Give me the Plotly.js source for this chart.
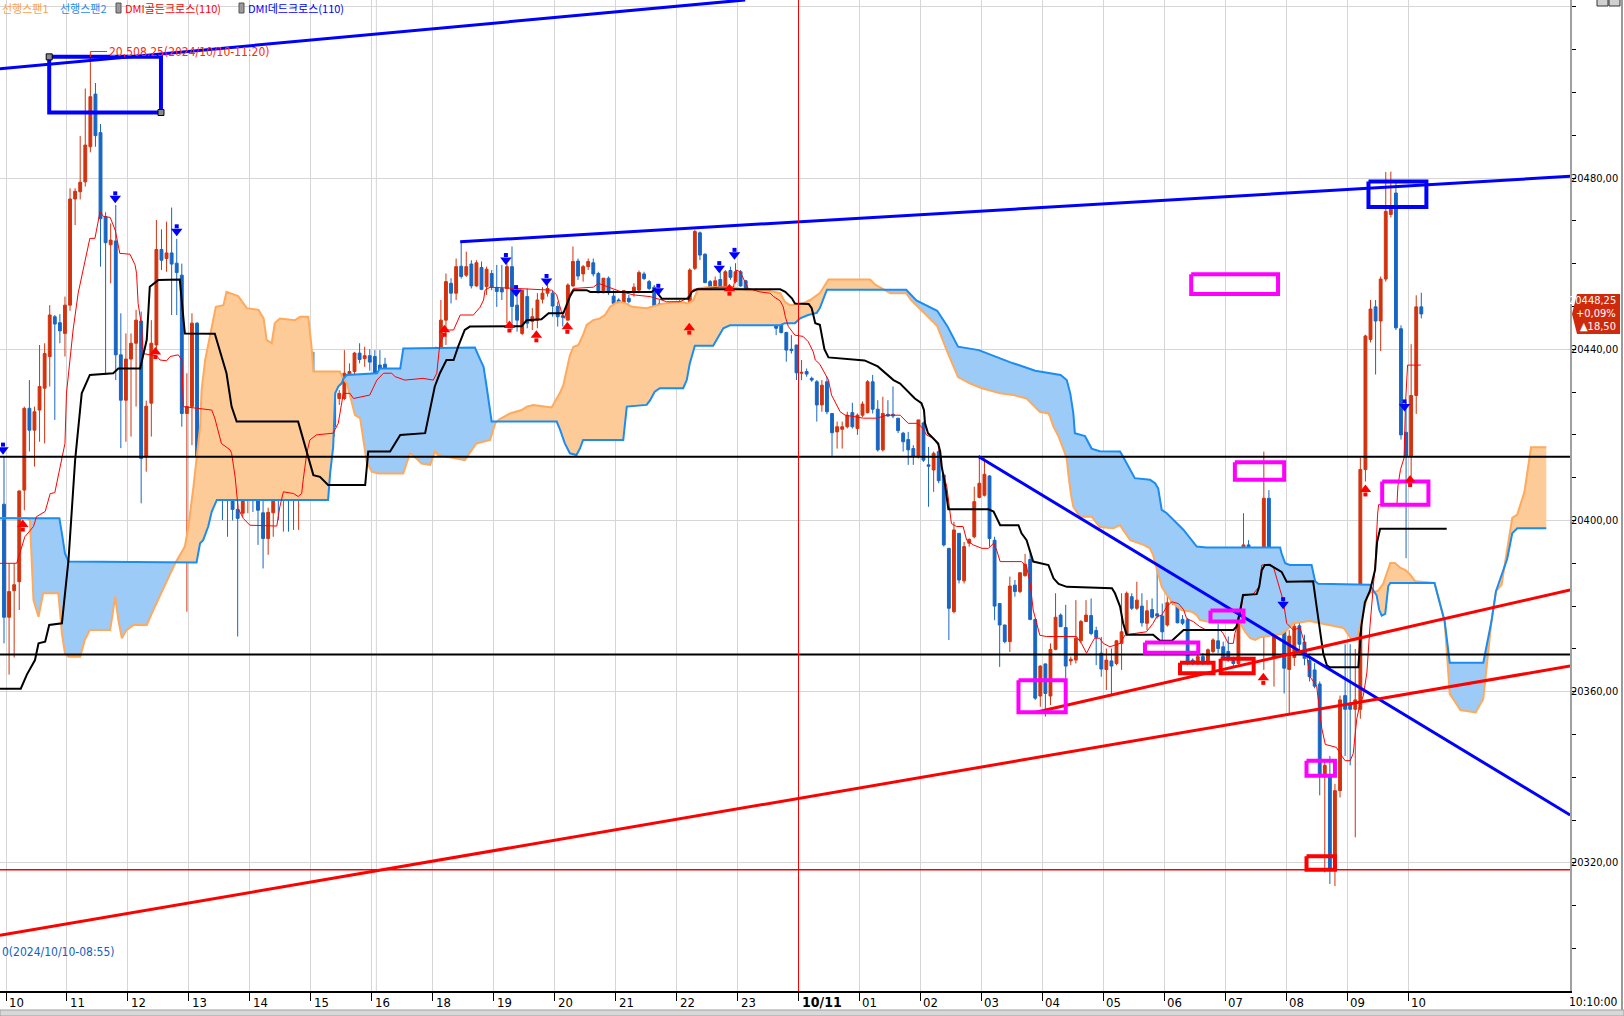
<!DOCTYPE html>
<html><head><meta charset="utf-8">
<script src="https://cdn.plot.ly/plotly-3.0.1.min.js"></script>
<style>html,body{margin:0;padding:0;background:#fff;overflow:hidden}</style>
</head><body><div id="chart" style="width:1624px;height:1016px"></div>
<script>
// ---------------- DATA (5-minute candles, index 0 = 10/10 10:00) ----------------
const openP = [
20403.8,20377.4,20383.6,20385.7,20407.1,20426.2,20421.1,20425.8,20430.9,20438.3,
20447.6,20446.2,20443.7,20450.3,20475.1,20476.8,20479.1,20487.3,20499.6,20490.6,
20471.0,20464.4,20465.3,20438.7,20428.1,20437.7,20441.4,20446.6,20414.9,20427.4,
20441.0,20463.3,20461.2,20462.5,20460.1,20457.3,20425.0,20426.6,20446.1,20414.9,
20420.0,20419.2,20418.6,20412.2,20407.9,20416.1,20402.6,20401.7,20411.0,20416.3,
20416.1,20401.8,20395.8,20401.8,20412.2,20407.9,20414.9,20407.9,20410.6,20410.6,
20418.8,20429.7,20429.3,20428.9,20419.2,20421.9,20428.5,20428.5,20434.2,20434.8,
20439.1,20437.8,20438.5,20438.3,20436.3,20436.5,20428.1,20432.1,20428.9,20430.9,
20432.4,20434.4,20434.4,20435.9,20436.7,20437.9,20434.4,20446.8,20455.4,20453.1,
20459.4,20457.3,20459.9,20454.8,20459.1,20454.6,20457.7,20454.4,20454.2,20454.2,
20459.3,20450.3,20443.7,20452.3,20446.5,20446.8,20451.7,20453.1,20453.1,20450.0,
20447.8,20446.8,20454.8,20460.6,20457.6,20459.3,20460.2,20457.7,20453.2,20456.6,
20452.4,20451.5,20450.9,20451.9,20453.2,20453.8,20457.6,20455.8,20454.5,20450.6,
20449.3,20442.9,20447.2,20446.7,20450.1,20446.7,20458.9,20467.2,20462.2,20455.8,
20453.5,20456.3,20454.5,20458.4,20455.8,20458.1,20456.0,20447.8,20452.7,20452.9,
20451.3,20447.1,20449.3,20446.2,20443.9,20440.0,20441.0,20434.4,20434.8,20433.2,
20432.4,20427.0,20432.4,20425.0,20420.7,20421.3,20421.9,20425.2,20421.5,20424.6,
20425.2,20432.4,20426.0,20416.5,20424.8,20424.8,20423.9,20420.4,20418.9,20416.8,
20414.9,20422.8,20413.0,20411.8,20416.1,20410.6,20393.5,20378.7,20397.0,20385.9,
20394.7,20396.2,20405.4,20405.9,20410.4,20395.4,20380.6,20375.6,20371.7,20384.9,
20383.4,20387.1,20390.9,20376.9,20359.0,20366.5,20359.0,20369.9,20377.9,20375.0,
20367.2,20367.4,20371.9,20376.4,20377.8,20374.3,20369.0,20365.2,20367.2,20366.6,
20371.3,20373.6,20382.2,20379.5,20380.0,20376.0,20379.2,20378.2,20377.7,20375.6,
20380.8,20382.8,20376.9,20376.8,20367.4,20366.6,20368.2,20366.6,20369.4,20371.9,
20370.5,20369.4,20367.6,20366.6,20391.7,20394.3,20390.2,20391.1,20390.0,20405.2,
20368.2,20383.8,20376.8,20365.2,20368.0,20375.4,20371.6,20367.3,20365.1,20361.8,
20340.6,20340.1,20318.4,20336.9,20359.1,20357.0,20355.9,20355.9,20411.9,20442.3,
20449.9,20446.6,20456.4,20471.5,20476.5,20444.8,20420.6,20415.1,20429.2,20449.9];
const highP = [
20414.9,20390.0,20390.0,20407.0,20426.6,20432.8,20426.6,20441.0,20441.4,20450.3,
20448.0,20448.2,20452.3,20477.6,20477.6,20489.8,20500.9,20508.25,20502.2,20492.6,
20472.0,20469.4,20473.7,20448.4,20443.7,20443.7,20449.2,20448.8,20428.0,20446.8,
20470.2,20468.0,20469.8,20473.1,20465.8,20460.0,20434.4,20448.4,20446.3,20430.5,
20428.5,20425.8,20423.5,20421.9,20416.5,20421.9,20426.2,20421.9,20424.6,20417.0,
20420.0,20406.3,20403.0,20415.7,20418.0,20417.2,20416.9,20412.6,20412.6,20420.3,
20443.7,20439.4,20433.2,20429.3,20424.6,20430.5,20430.5,20439.8,20436.7,20439.4,
20441.4,20440.6,20440.0,20439.8,20439.8,20438.0,20432.0,20433.5,20432.8,20434.4,
20437.5,20436.7,20437.5,20436.7,20439.8,20440.6,20451.5,20457.7,20456.6,20461.2,
20465.1,20462.8,20460.8,20460.8,20460.5,20459.3,20458.5,20459.7,20459.7,20460.1,
20464.0,20454.2,20453.8,20454.2,20449.6,20453.1,20454.5,20456.2,20453.8,20451.1,
20448.8,20455.4,20464.0,20461.2,20459.7,20461.2,20461.2,20458.1,20456.6,20457.0,
20453.8,20451.9,20453.8,20452.7,20455.4,20458.4,20458.1,20456.2,20455.0,20451.5,
20449.9,20448.4,20449.9,20451.5,20451.1,20458.9,20467.9,20467.5,20462.4,20456.2,
20457.0,20458.5,20458.5,20459.3,20460.1,20458.5,20456.2,20453.8,20454.2,20453.5,
20451.5,20449.2,20449.6,20448.4,20444.1,20443.3,20441.0,20437.5,20435.5,20433.6,
20432.8,20432.8,20433.5,20425.0,20423.1,20423.1,20425.4,20427.5,20425.0,20427.8,
20432.8,20434.0,20428.1,20428.9,20428.1,20431.3,20423.9,20420.7,20420.7,20417.6,
20423.5,20423.1,20417.2,20416.1,20416.5,20411.0,20393.5,20399.7,20397.0,20395.0,
20395.8,20407.9,20415.3,20414.5,20410.6,20396.2,20380.6,20375.6,20386.9,20386.1,
20387.8,20392.2,20392.3,20376.9,20366.2,20366.6,20371.3,20383.0,20378.3,20380.3,
20368.2,20381.4,20376.8,20381.4,20381.8,20375.2,20372.8,20370.1,20370.1,20372.1,
20383.0,20383.4,20383.0,20385.7,20383.0,20381.4,20381.8,20389.6,20380.6,20383.8,
20384.5,20386.5,20377.9,20377.2,20367.8,20368.6,20369.0,20370.1,20372.5,20376.0,
20371.7,20372.9,20368.2,20393.1,20401.7,20395.4,20391.5,20391.5,20416.1,20407.1,
20389.2,20388.8,20377.9,20374.4,20379.8,20377.1,20373.3,20368.9,20366.7,20362.4,
20343.9,20345.0,20338.5,20359.1,20371.1,20371.1,20370.0,20414.6,20443.4,20451.5,
20451.5,20457.0,20481.4,20481.5,20479.0,20445.6,20427.6,20441.2,20452.6,20453.2];
const lowP = [
20371.3,20364.0,20368.0,20379.1,20402.4,20416.1,20412.6,20418.4,20418.0,20431.3,
20423.5,20441.4,20438.3,20449.0,20469.0,20475.0,20478.0,20486.0,20487.3,20459.3,
20434.0,20455.4,20432.8,20416.9,20418.4,20419.6,20426.6,20404.0,20411.4,20419.6,
20440.0,20458.5,20458.1,20448.0,20448.0,20421.9,20378.7,20417.6,20406.0,20409.5,
20411.8,20405.6,20406.3,20400.1,20396.2,20400.0,20372.9,20400.9,20401.7,20402.0,
20394.3,20388.8,20392.0,20396.2,20400.1,20397.4,20397.4,20397.8,20397.8,20404.8,
20418.4,20423.9,20418.0,20418.0,20417.6,20419.6,20427.0,20428.1,20432.0,20432.8,
20436.7,20435.9,20435.0,20434.2,20428.1,20427.0,20428.1,20430.0,20426.2,20430.5,
20429.7,20432.8,20429.3,20434.4,20435.5,20432.8,20433.0,20441.0,20450.7,20451.5,
20456.5,20456.9,20454.2,20454.6,20453.8,20452.7,20453.8,20449.9,20451.5,20446.1,
20444.5,20444.1,20443.3,20444.9,20444.5,20444.9,20450.7,20452.3,20447.6,20445.3,
20445.3,20446.8,20454.6,20456.2,20455.8,20458.5,20457.0,20453.1,20453.1,20452.7,
20446.8,20450.0,20450.0,20450.7,20452.3,20453.1,20456.2,20453.8,20449.6,20448.4,
20439.8,20442.6,20443.7,20446.1,20443.7,20446.1,20458.5,20460.8,20455.4,20451.5,
20453.1,20450.0,20454.2,20456.2,20455.4,20454.6,20447.6,20447.6,20451.5,20451.5,
20446.8,20446.8,20443.3,20443.7,20437.1,20439.0,20432.8,20432.8,20433.6,20432.4,
20423.1,20425.4,20424.8,20415.1,20416.8,20416.8,20421.5,20421.5,20420.0,20424.2,
20425.0,20425.0,20416.1,20416.1,20424.2,20423.9,20420.4,20416.1,20413.0,20413.0,
20414.5,20413.7,20403.2,20406.7,20408.7,20393.9,20372.1,20378.3,20385.3,20385.3,
20393.9,20395.8,20405.2,20405.6,20393.9,20376.7,20365.8,20371.3,20369.3,20382.2,
20383.0,20386.9,20376.7,20358.1,20356.5,20354.2,20356.9,20369.7,20375.2,20363.1,
20366.2,20366.6,20371.3,20376.4,20373.2,20366.2,20363.5,20360.4,20359.2,20366.2,
20365.1,20373.2,20379.1,20379.1,20375.2,20374.4,20377.1,20377.1,20371.9,20375.2,
20380.3,20376.0,20375.6,20366.2,20366.2,20366.2,20366.2,20366.2,20369.0,20369.0,
20367.8,20367.0,20365.9,20366.2,20388.4,20389.6,20386.9,20389.2,20365.1,20379.9,
20361.2,20376.8,20359.6,20354.9,20366.0,20368.9,20366.2,20362.4,20360.8,20335.8,
20317.8,20315.1,20314.6,20335.3,20345.0,20342.8,20326.0,20353.7,20409.1,20441.6,
20434.1,20439.6,20455.8,20470.8,20444.5,20418.9,20391.2,20410.2,20424.9,20447.2];
const closeP = [
20377.4,20383.4,20385.0,20406.9,20426.2,20421.1,20425.4,20431.3,20439.0,20448.0,
20445.9,20444.3,20450.3,20475.1,20476.9,20479.0,20487.7,20499.0,20489.9,20470.5,
20464.9,20465.5,20438.7,20428.1,20437.7,20441.4,20446.8,20414.5,20426.7,20441.4,
20463.3,20460.8,20462.5,20459.9,20457.9,20425.0,20426.6,20446.1,20414.9,20419.6,
20418.8,20419.0,20411.8,20407.5,20415.7,20402.6,20400.5,20411.0,20415.7,20415.9,
20402.4,20395.8,20401.9,20412.2,20407.5,20415.3,20407.9,20405.6,20412.2,20418.8,
20430.9,20429.3,20428.9,20419.2,20421.9,20428.5,20429.7,20434.4,20434.8,20439.1,
20437.6,20438.5,20437.0,20434.4,20429.7,20429.3,20430.1,20431.7,20430.9,20432.4,
20435.2,20434.0,20435.9,20436.7,20438.3,20434.0,20446.8,20455.8,20453.1,20459.3,
20457.0,20459.3,20454.8,20460.2,20454.0,20458.7,20454.5,20453.5,20453.4,20459.3,
20450.0,20446.8,20453.8,20446.1,20447.6,20451.5,20453.1,20454.2,20450.1,20447.6,
20447.5,20455.0,20460.5,20457.1,20459.3,20460.5,20457.6,20453.2,20456.6,20453.2,
20450.7,20450.7,20453.7,20451.1,20454.5,20457.9,20456.5,20454.2,20450.0,20449.2,
20442.6,20447.2,20446.4,20449.2,20446.2,20458.5,20467.5,20462.0,20455.6,20453.1,
20456.0,20453.8,20458.1,20456.8,20458.1,20454.8,20447.8,20453.5,20453.5,20452.1,
20447.0,20448.4,20444.9,20443.9,20439.8,20439.7,20434.5,20434.6,20434.2,20432.8,
20427.0,20431.6,20425.4,20420.5,20421.9,20421.9,20424.6,20421.9,20424.6,20427.2,
20432.4,20426.0,20416.5,20425.0,20424.4,20424.4,20421.0,20418.4,20416.5,20415.0,
20423.5,20414.1,20412.7,20415.7,20409.3,20394.3,20379.5,20397.8,20386.1,20393.9,
20395.6,20404.4,20408.7,20410.8,20395.8,20380.0,20375.6,20371.7,20384.7,20383.4,
20387.8,20389.8,20376.9,20358.5,20366.0,20359.6,20369.9,20377.4,20375.2,20366.0,
20367.6,20372.5,20376.4,20377.9,20373.6,20372.7,20365.3,20367.4,20366.0,20371.9,
20374.0,20383.0,20379.5,20381.4,20376.1,20378.9,20377.4,20377.7,20374.0,20380.8,
20382.6,20376.1,20376.0,20366.6,20366.6,20368.2,20366.6,20369.8,20372.1,20370.1,
20368.2,20367.4,20366.6,20391.9,20394.3,20390.0,20391.1,20389.6,20405.2,20380.3,
20383.8,20377.1,20365.5,20373.0,20375.3,20371.1,20367.8,20363.5,20361.3,20340.6,
20342.8,20318.4,20336.9,20358.1,20355.9,20355.9,20358.1,20411.9,20443.1,20449.4,
20446.6,20456.4,20472.2,20472.7,20445.0,20420.0,20415.1,20429.2,20449.9,20448.25];

// Ichimoku lines (candle index, price)
const tenkanK = [-1,2.5,3.1,4.1,5.8,6.4,8.1,9.1,10,11,12,12.3,13,13.6,14.6,15.3,15.9,16.9,17.9,18.6,18.9,19.6,20.9,21.9,22.8,24.8,25.8,26.1,26.4,27.1,27.4,30.1,30.7,32,32.7,34.3,35,35.3,40.9,41.5,42.2,42.8,44.5,44.8,45.5,46.1,47.1,48.4,53.7,54.3,55,57,57.9,58.6,58.9,59.6,60.2,61.5,64.8,65.8,66.8,68.1,68.8,72,73.4,74.7,76.3,77,78.9,82.5,84.5,85.2,85.8,87.1,88.5,89.8,92.4,93.7,94.4,94.7,95.7,107.8,108.8,109.8,110.4,111.1,112.1,116,117,118.3,121.3,123.9,127.2,129.5,130.4,133.1,134.4,135.7,140.9,143.6,144.2,144.9,145.9,146.5,148.8,150.8,151.5,152.8,153.4,153.8,154.4,155.7,157.3,158.3,159.3,159.7,160.6,162.3,162.9,164.6,165.6,169.2,171.8,173.8,176.4,177.4,178,179.7,180.6,181.6,182.9,183.9,184.6,185.6,186.5,187.5,188.8,189.5,190.8,192.5,193.8,194.8,195.4,196.1,200.3,201.3,202,202.6,203.3,203.9,205.2,211.1,212.1,213.1,214.1,214.7,215.7,216.4,217.7,219.7,220.7,221.7,224.9,226.2,226.9,227.9,228.9,229.9,231.2,232.2,232.8,234.1,235.4,236.7,239.4,240,241,242,242.3,243.3,243.9,245.9,247.1,247.6,249.2,249.9,250.5,251.2,251.8,252.5,253.8,255.1,256.1,257.1,258.4,259.4,260.1,262.3,263,264,265,265.6,266.3,266.9,267.6,268.3,268.9,269.9,270.4,270.6,274.2,274.4,274.9,275.6,275.9,276.3,278.9];
const tenkanV = [20390,20390,20392.3,20396.2,20398.6,20400.9,20402.1,20406.3,20406.5,20412.6,20418,20429.7,20437.5,20444.5,20453.1,20457,20460.8,20465.9,20465.9,20470.6,20472.1,20471,20470.8,20467.8,20462.4,20462.2,20459.7,20457.7,20450.7,20445.3,20439,20438.4,20437.5,20437.3,20438.3,20438.7,20437.5,20426.6,20425.8,20423.9,20420.4,20418,20416.5,20415.7,20410.2,20402.8,20400.5,20398.9,20398.7,20403.2,20406.7,20406.3,20405.6,20406.3,20409.5,20415.7,20418.8,20420,20420.4,20422.7,20429.7,20429.7,20428.5,20429.3,20432.8,20434.4,20434.4,20433.6,20432.8,20433.2,20432.8,20434.4,20441.4,20444.5,20444.5,20448,20448,20449.8,20451.5,20453.8,20454.5,20453.8,20452.7,20448.4,20447.2,20452.3,20454.2,20454.5,20455.4,20454.8,20453.5,20452.7,20452.3,20451.5,20451.1,20451.1,20451.9,20454,20454.5,20454.5,20458.5,20458.1,20455.8,20454.2,20453.4,20453.1,20452.3,20451.3,20449.9,20447.6,20445.3,20443.3,20443,20441.8,20439.4,20437.5,20436.5,20432.8,20429.3,20425.4,20424.6,20423.9,20423.9,20424.6,20424.6,20423.5,20422.7,20422.7,20421.9,20420,20419.2,20417.6,20412.2,20407.9,20399.3,20398.6,20398.6,20395.4,20394.3,20393.5,20393.5,20394.7,20393.1,20390.4,20390.4,20389.2,20385.3,20379.1,20376,20373.2,20372.9,20372.9,20371.3,20369,20371.3,20372.5,20372.5,20371.3,20370.5,20371.3,20373.3,20373.5,20374,20376,20377.5,20377.9,20379.9,20381,20380.6,20379.2,20377.1,20376.4,20375.2,20374.4,20374.4,20373.6,20371.3,20371.3,20373.6,20377.5,20382.4,20382.8,20384.6,20389.6,20389.8,20389.1,20386.9,20383.8,20381.4,20376,20374.4,20375,20371.1,20363.5,20361.3,20351.5,20347.7,20347,20345.6,20343.9,20343.9,20345.6,20353.7,20357,20359.1,20364.6,20375.4,20389.6,20401.5,20403.7,20403.7,20408.1,20411.9,20414.6,20427.6,20436.3,20436.3];
const kijunK = [-1,3.3,4.5,6.1,6.8,8.1,8.9,11.4,12.7,14,15.3,16.9,21.5,22.5,26.8,28.1,28.7,30.4,34.6,35.6,41.5,43.8,44.8,45.8,57.9,59.6,60.9,62.2,63.8,71.1,71.7,76,78,82.9,83.9,84.8,85.8,87.1,88.5,89.4,90.7,91.7,101.9,102.9,105.8,107.2,110.1,111.4,112.1,114.7,115.4,127.5,128.1,129.1,129.5,134.7,135.4,136.4,152.8,153.8,155.1,155.7,158.4,159,159.7,160.6,161.5,162.3,169.4,172,175.1,176.4,178.3,179.3,180.6,181.1,181.3,181.9,182.9,183.9,184.3,184.6,185.3,185.9,193.8,194.8,196.1,199.7,200.3,201.3,202.6,203.9,205.6,206.6,207.6,209.2,218.1,218.7,219.7,220.3,221,226.2,227.6,229.9,231.5,232.2,242,242.6,243.3,243.9,246.6,247.1,247.6,248.2,249.2,250.5,251.5,252.5,257.7,258.4,259,259.7,260.4,261,266.6,267.2,267.9,268.9,269.9,270.3,270.9,284];
const kijunV = [20360.7,20360.7,20364,20367.4,20371.3,20371.7,20375.6,20376,20390.8,20414.1,20429.7,20434,20434.4,20435.5,20435.5,20442.2,20454.6,20456.2,20456.3,20443.7,20443.6,20434.4,20426.6,20423.1,20423.1,20415.7,20410.6,20410.2,20408.3,20408.3,20416.1,20416.1,20420,20420.4,20425.8,20431.3,20434.4,20437.5,20437.5,20440.6,20444.5,20445.3,20445.4,20446.8,20447,20448.4,20448.4,20452.3,20453.8,20453.8,20453.4,20453.4,20454,20452.3,20451.8,20451.8,20453.4,20454,20454,20453.4,20451.9,20450.7,20450.6,20449.6,20446.1,20445.7,20440,20438.1,20437.4,20436,20432.8,20432,20429.7,20428.5,20427.4,20425.8,20422.7,20420.4,20419.2,20418,20416.1,20412.6,20407.9,20402.6,20402.6,20402.1,20398.9,20398.9,20397,20395.4,20390.4,20390,20389.6,20386.5,20385.2,20384.5,20384.2,20383,20379.9,20376,20373.3,20373.3,20371.9,20371.9,20373.5,20374.4,20374.4,20375.2,20378.7,20382.6,20382.8,20384.6,20388.4,20389.6,20389.6,20388.8,20388,20385.7,20385.8,20379.8,20374.3,20368.9,20366.2,20365.7,20365.7,20375.4,20380.9,20383.6,20388.5,20395,20398.1,20398.1];
const spanAK = [-1,4.5,5.1,5.8,6.8,7.7,10.7,11.4,12,12.7,15,15.9,16.9,20.9,21.9,22.5,23.2,24.1,25.5,28.1,29.1,30.7,32.3,33.7,35.6,36.3,37.3,38.6,38.9,39.6,40.6,41.7,43.2,43.8,44.5,46.1,47.8,50.1,51.1,51.7,52.7,53.3,54.3,57.3,58.3,59.9,60.6,60.9,66.1,66.8,67.5,68.4,69.1,70.1,70.7,71.4,72.4,73.7,78.6,79.9,81.2,82.2,83.9,84.8,85.5,87.1,90.7,92.1,93,95.7,96.7,97,97.6,99.6,101.9,102.9,104.2,107.8,108.5,109.4,110.1,110.8,111.4,112.1,113.1,114.1,114.7,116,117.3,118.3,119.3,120.3,121.3,122.6,123.6,126.5,127.8,129.5,132.7,134.7,135.7,136.7,138.3,143.6,146.2,150.1,152.8,153.7,154.7,157.3,158.7,160.6,162.3,170.5,171.5,173.3,174.5,177.6,178.6,181.7,183.7,185.7,187.8,190.2,192.5,196.1,198.7,201.3,202.6,203.9,205.6,205.9,206.6,207.6,208.5,209.2,209.5,210,210.5,211.8,214.1,215.7,218.4,219.7,220.3,221.7,224.3,225.6,226.2,227.2,227.9,228.9,230.2,231.8,233.8,234.8,235.4,236.7,243.3,244.3,245.3,246.3,247.2,251.5,252.5,253.8,257.1,259.1,261.7,263.7,265.3,266.3,268.3,268.9,269.8,270.5,271.5,272.2,272.9,273.8,274.8,275.8,276.8,277.8,281.6,283.6,284.6,286.7,289.7,291.2,292.8,293.7,294.8,296.9,297.9,299.3,300.6,303.6];
const spanAV = [20400.5,20400.5,20400.1,20381.4,20377.5,20383,20383,20373.6,20369,20368.2,20368.2,20372.1,20374.4,20374.4,20382.2,20376.8,20372.5,20374.4,20375.6,20375.6,20378.3,20382.2,20386.5,20390,20393.9,20398.6,20407.9,20421.9,20430.5,20437.5,20443.7,20449.9,20450.3,20453.4,20453.1,20452.4,20449.6,20449.2,20447.2,20442.2,20441.4,20446.1,20447.2,20446.8,20447.6,20447.6,20439.8,20434.8,20434.8,20433.1,20432,20427.4,20424.6,20423.9,20419.2,20413.7,20411.4,20411,20411,20415.7,20414.5,20413.3,20413,20416.1,20415.3,20414.9,20414.1,20416.5,20418,20418.8,20422.7,20423.1,20423.7,20425,20425.8,20426.6,20427,20426.4,20427.8,20429.7,20431.6,20435.1,20438.6,20440.6,20441,20443.7,20445.7,20446.8,20447.2,20448,20449.9,20450.7,20451.1,20450.6,20449.9,20449.6,20450.1,20450.6,20451.1,20450.7,20451.5,20454.2,20454.5,20454.5,20453.8,20453.8,20453.1,20451.1,20450.3,20450.7,20451.5,20453.1,20456.3,20456.3,20455.1,20453.9,20453.1,20453.1,20451.4,20447.8,20445.4,20439.4,20433.5,20432,20430.9,20429.7,20429.3,20428.5,20427,20425.4,20425,20424.3,20421.9,20419.6,20416.8,20414.5,20411,20406.3,20403.2,20400.9,20400.9,20398.5,20398.2,20398.9,20397.8,20395.4,20394.3,20393.5,20391.9,20387.7,20384.5,20382.6,20380.6,20379.1,20378.7,20377.9,20376.8,20376.4,20376.1,20374,20372.5,20372.1,20372.7,20373.5,20374.4,20376,20376.5,20376,20375.4,20374.9,20372.2,20372.2,20382,20383.1,20383.3,20383.6,20385.2,20387.9,20390.1,20390.1,20389,20388.5,20387.4,20385.8,20385.4,20376.4,20359.5,20355.7,20355.2,20358.3,20376.4,20383.5,20385,20400.6,20401.4,20406.7,20417.1,20417.1];
const spanBK = [-1,5.1,10.9,11.4,12,12.7,33.7,37.9,38.6,39.2,40.2,40.9,41.9,63.8,64.2,64.8,65.2,65.8,66.5,66.8,67.5,73.4,74,78,78.6,92.7,93.7,94.4,95,95.7,96,97,108.8,109.5,110.4,111.4,112.7,113.4,114,121.9,122.6,126.5,127.2,128.1,129.1,133.7,134.4,135,135.7,136,139.6,140.3,141.6,142.9,152.8,153.7,155.7,156.7,158.3,160,160.6,162,173.3,177.6,179.6,183.7,185.7,187.8,191.9,198,203,208,209.2,209.9,210.5,210.8,212.8,214.1,215.7,219.7,220.3,221.7,222.6,225.6,226.6,227.2,227.9,228.9,229.9,231.5,232.2,234.8,236.7,251.2,251.5,252.2,253.1,257.4,258.1,258.7,268.9,269.6,269.8,270.2,270.7,271.2,271.9,272.2,272.5,272.9,281.6,283.6,284.6,291.2,292.8,293.7,295.9,296.9,297.9,303.6];
const spanBV = [20400.5,20400.5,20400.5,20397,20392.3,20390.4,20390.2,20390.2,20394.7,20395.4,20398.6,20402.1,20404.8,20404.8,20411,20417.2,20429.7,20431.3,20432.1,20433.1,20434,20434.4,20435.5,20435.5,20440.2,20440.4,20437.7,20435.9,20431.3,20425,20423.1,20423.1,20423.1,20421.1,20418,20415.7,20415.3,20416.9,20418.8,20418.8,20426.6,20427,20428.1,20430.1,20430.9,20430.9,20432.8,20436.7,20439.8,20440.8,20440.8,20442.2,20444.9,20445.6,20445.6,20446.1,20446.1,20447.2,20448,20448.5,20449.6,20453.9,20453.9,20453.9,20451.4,20449,20445.4,20440.6,20439.8,20437,20435,20434,20432.8,20429.7,20425,20420.4,20419.7,20416.8,20416.2,20416.1,20414.9,20411.8,20409.9,20409.5,20408.7,20407.5,20402.5,20401.7,20400.5,20398.6,20397.8,20393.9,20393.7,20393.7,20392.3,20390,20389.6,20389.6,20385.8,20385.2,20385,20383.6,20383.3,20382.5,20379.2,20377.8,20378.2,20380.9,20384.7,20385.4,20385.4,20376.4,20366.8,20366.8,20376.4,20383.5,20391,20397,20398.2,20398.2];
// cloud sections: [from, to, span on top]
const cloudSegs = [[5.1,33.7,'B'],[33.7,66.8,'A'],[66.8,97,'B'],[97,173.3,'A'],[173.3,269.8,'B'],[269.8,281.6,'A'],[281.6,293.7,'B'],[293.7,303.6,'A']];

// Signals (candle index, price)
const deadK = [-0.2,21.9,34,98.8,100.8,106.8,128.8,140.8,143.8,251.8,275.7];
const deadP = [20416.9,20475.6,20467.9,20461.2,20453.7,20456.3,20454,20459.3,20462.4,20380.8,20427];
const goldK = [3.7,29.8,86.7,99.5,104.8,110.9,134.9,142.8,247.9,268,276.8];
const goldP = [20398.7,20439,20444.2,20445.2,20442.9,20444.9,20444.7,20453.8,20362.9,20406.9,20409.1];

// Horizontal levels and trend lines
const blackLevels = [20414.9, 20368.7];
const redLevel = 20318.4;
const blueTrends = [[[-0.8,145.9],[20505.5,20521.6]], [[89.8,308.3],[20465.1,20480.4]], [[191.9,308.3],[20414.9,20331.2]]];
const redTrends = [[[-0.8,308.3],[20303.1,20366.0]], [[203.1,308.3],[20355.2,20383.8]]];
// Boxes [k0,k1,p0,p1]
const blueBoxes = [[8.9,30.9,20495.3,20508.3],[268.6,280.0,20473.2,20479.2]];
const magentaBoxes = [[233.7,250.8,20452.9,20457.5],[242.3,252.0,20409.5,20413.6],[271.3,280.4,20403.7,20409.1],[199.7,209.0,20355.2,20362.7],[224.6,235.1,20369.1,20371.5],[237.5,244.0,20376.4,20379.0],[256.4,262.0,20340.4,20343.9]];
const redBoxes = [[231.5,238.1,20364.3,20366.8],[239.5,246.0,20364.3,20367.7],[256.4,262.0,20318.4,20321.6]];

// Axis labels
const hourIdx = [0,12,24,36,48,60,72,84,96,108,120,132,144,156,168,180,192,204,216,228,240,252,264,276];
const hourLabels = ['10','11','12','13','14','15','16','18','19','20','21','22','23','10/11','01','02','03','04','05','06','07','08','09','10'];
const priceTicks = [20320,20360,20400,20440,20480,20520];
const dateBreakIdx = 156;
const sessionGridIdx = 73.3;

// ---------------- DRAWING ----------------
const PW = 1570, PH = 991;
const X0 = -0.787, X1 = 308.27, Y0 = 20290.1, Y1 = 20521.58;
const ppu = PH / (Y1 - Y0);
const RED = '#d2330f', BLUE = '#1766c4';
const FONT = 'Liberation Sans Narrow, DejaVu Sans Condensed, Liberation Sans, Arial, sans-serif';
const KFONT = 'Noto Sans CJK KR, sans-serif';
const idx = closeP.map((_, i) => i);
const traces = [];

// cloud fills
const span = {A: [spanAK, spanAV], B: [spanBK, spanBV]};
cloudSegs.forEach(([s, e, top]) => {
  const bot = top === 'A' ? 'B' : 'A';
  const xs = [], ys = [];
  span[top][0].forEach((k, i) => { if (k >= s && k <= e) { xs.push(k); ys.push(span[top][1][i]); } });
  for (let i = span[bot][0].length - 1; i >= 0; i--) {
    const k = span[bot][0][i];
    if (k >= s && k <= e) { xs.push(k); ys.push(span[bot][1][i]); }
  }
  traces.push({type:'scatter', mode:'lines', x:xs, y:ys, fill:'toself',
    fillcolor: top === 'A' ? '#fdcb98' : '#9dcbf8', line:{width:0}, hoverinfo:'skip', showlegend:false});
});
traces.push({type:'scatter', mode:'lines', x:spanAK, y:spanAV, line:{color:'#ffa95c', width:2}, hoverinfo:'skip'});
traces.push({type:'scatter', mode:'lines', x:spanBK, y:spanBV, line:{color:'#1a8cf2', width:2}, hoverinfo:'skip'});

// candles
traces.push({type:'candlestick', x:idx, open:openP, high:highP, low:lowP, close:closeP,
  increasing:{line:{color:RED, width:1}, fillcolor:RED},
  decreasing:{line:{color:BLUE, width:1}, fillcolor:BLUE},
  whiskerwidth:0, hoverinfo:'skip', showlegend:false});

// tenkan / kijun
traces.push({type:'scatter', mode:'lines', x:tenkanK, y:tenkanV, line:{color:'#ff0000', width:1}, hoverinfo:'skip'});
traces.push({type:'scatter', mode:'lines', x:kijunK, y:kijunV, line:{color:'#000000', width:2}, hoverinfo:'skip'});

// horizontal levels
blackLevels.forEach(v => traces.push({type:'scatter', mode:'lines', x:[X0, X1], y:[v, v], line:{color:'#000', width:2}, hoverinfo:'skip'}));
traces.push({type:'scatter', mode:'lines', x:[X0, X1], y:[redLevel, redLevel], line:{color:'#ff0000', width:1.5}, hoverinfo:'skip'});
// trend lines
blueTrends.forEach(t => traces.push({type:'scatter', mode:'lines', x:t[0], y:t[1], line:{color:'#0000ff', width:3}, hoverinfo:'skip'}));
redTrends.forEach(t => traces.push({type:'scatter', mode:'lines', x:t[0], y:t[1], line:{color:'#ff0000', width:3}, hoverinfo:'skip'}));

// boxes
function boxTrace(b, color) {
  return {type:'scatter', mode:'lines', x:[b[0], b[1], b[1], b[0], b[0]], y:[b[3], b[3], b[2], b[2], b[3]],
    line:{color:color, width:4}, hoverinfo:'skip'};
}
blueBoxes.forEach(b => traces.push(boxTrace(b, '#0000ff')));
magentaBoxes.forEach(b => traces.push(boxTrace(b, '#ff00ff')));
redBoxes.forEach(b => traces.push(boxTrace(b, '#ff0000')));
// grips on the first blue box
traces.push({type:'scatter', mode:'markers', x:[blueBoxes[0][0], blueBoxes[0][1]], y:[blueBoxes[0][3], blueBoxes[0][2]],
  marker:{symbol:'square', size:6, color:'#8a8a8a', line:{color:'#000', width:1}}, hoverinfo:'skip'});

// signal arrows
traces.push({type:'scatter', mode:'markers', x:deadK, y:deadP.map(p => p + 3.5 / ppu), marker:{symbol:'square', size:4, color:'#0000ff'}, hoverinfo:'skip'});
traces.push({type:'scatter', mode:'markers', x:deadK, y:deadP.map(p => p - 1.5 / ppu), marker:{symbol:'triangle-down', size:10, color:'#0000ff'}, hoverinfo:'skip'});
traces.push({type:'scatter', mode:'markers', x:goldK, y:goldP.map(p => p - 3.5 / ppu), marker:{symbol:'square', size:4, color:'#ff0000'}, hoverinfo:'skip'});
traces.push({type:'scatter', mode:'markers', x:goldK, y:goldP.map(p => p + 1.5 / ppu), marker:{symbol:'triangle-up', size:10, color:'#ff0000'}, hoverinfo:'skip'});

// high marker leader
const hiIdx = highP.indexOf(Math.max(...highP));
traces.push({type:'scatter', mode:'lines', x:[hiIdx, hiIdx, hiIdx + 3.3], y:[highP[hiIdx], highP[hiIdx] + 1.3, highP[hiIdx] + 1.3],
  line:{color:'#ff2a00', width:1}, hoverinfo:'skip'});

// ---- annotations ----
const px2x = px => px / PW;
const py2y = py => 1 - py / PH;
const ann = [];
hourIdx.forEach((k, i) => {
  const bold = hourLabels[i].indexOf('/') >= 0;
  ann.push({x:k + 0.4, xref:'x', y:py2y(1002), yref:'paper', text: bold ? '<b>' + hourLabels[i] + '</b>' : hourLabels[i],
    showarrow:false, xanchor:'left', yanchor:'middle', xshift:1,
    font:{family:FONT, size: bold ? 14 : 13, color:'#000'}});
});
ann.push({x:px2x(1620), xref:'paper', y:py2y(1002), yref:'paper', text:'10:10:00', showarrow:false,
  xanchor:'right', yanchor:'middle', font:{family:FONT, size:12, color:'#000'}});
// price axis labels (drawn as text so they fit the narrow right margin)
priceTicks.filter(v => v < Y1 - 3).forEach(v => ann.push({x:1, xref:'paper', xshift:50, y:v, yref:'y',
  text:v.toFixed(2).replace('.', ','), showarrow:false, xanchor:'right', yanchor:'middle',
  font:{family:FONT, size:11, color:'#000'}}));
// high label
const fmt = v => v.toLocaleString('en-US', {minimumFractionDigits:2, maximumFractionDigits:2});
ann.push({x:hiIdx + 3.3, xref:'x', y:highP[hiIdx] + 1.3, yref:'y', text: fmt(highP[hiIdx]) + '(2024/10/10-11:20)',
  showarrow:false, xanchor:'left', yanchor:'middle', font:{family:FONT, size:12, color:'#ff2a00'}});
ann.push({x:px2x(0), xref:'paper', y:py2y(952), yref:'paper', text:'0(2024/10/10-08:55)', showarrow:false,
  xanchor:'left', yanchor:'middle', font:{family:FONT, size:12, color:'#1060c8'}});
// legend line at top
const legendItems = [['선행스팬1', '#ffa04a', 0], ['선행스팬2', '#1a8cf2', 58], ['DMI골든크로스(110)', '#ff0000', 123], ['DMI데드크로스(110)', '#0000ff', 246]];
legendItems.forEach(([t, c, px]) => ann.push({x:px2x(px), xref:'paper', y:py2y(8), yref:'paper', text:t, showarrow:false,
  xanchor:'left', yanchor:'middle', font:{family:KFONT, size:11, color:c}}));
// last price box
const last = closeP[closeP.length - 1];
const lastTxt = last.toFixed(2).replace('.', ',');
[[lastTxt, 13], ['+0,09%', 0], ['▲18,50', -13]].forEach(([t, dy]) => ann.push({x:1, xref:'paper', xshift:48, y:last, yref:'y', yshift:dy,
  text:t, showarrow:false, xanchor:'right', yanchor:'middle', font:{family:FONT, size:11, color:'#ffffff'}}));

// ---- shapes ----
const shapes = [];
shapes.push({type:'line', xref:'x', yref:'paper', x0:sessionGridIdx, x1:sessionGridIdx, y0:0, y1:1, line:{color:'#d6d6d6', width:1}, layer:'below'});
shapes.push({type:'line', xref:'x', yref:'paper', x0:dateBreakIdx + 0.4, x1:dateBreakIdx + 0.4, y0:0, y1:1, line:{color:'#ff0000', width:1}});
shapes.push({type:'path', xref:'paper', xsizemode:'pixel', xanchor:1, yref:'y', ysizemode:'pixel', yanchor:last,
  path:'M7,20 H50 V-20 H7 L2,0 Z', fillcolor:'#d02a0c', line:{width:0}});
// legend icons
[[116, 121], [239, 244]].forEach(([a, b]) => shapes.push({type:'rect', xref:'paper', yref:'paper', x0:px2x(a), x1:px2x(b), y0:py2y(13), y1:py2y(3),
  fillcolor:'#9a9a9a', line:{color:'#555', width:1}}));
// frame pieces
shapes.push({type:'line', xref:'paper', yref:'paper', x0:px2x(1622), x1:px2x(1622), y0:py2y(1010), y1:1, line:{color:'#9a9a9a', width:2}});
shapes.push({type:'rect', xref:'paper', yref:'paper', x0:px2x(0), x1:px2x(1624), y0:py2y(1016), y1:py2y(1010), fillcolor:'#d8d8d8', line:{color:'#a0a0a0', width:1}});
[[1597, 1608], [1609, 1620]].forEach(([a, b]) => shapes.push({type:'rect', xref:'paper', yref:'paper', x0:px2x(a), x1:px2x(b), y0:py2y(6), y1:py2y(-2),
  fillcolor:'#d0d0d0', line:{color:'#333', width:1}}));

const minorTicks = [];
for (let v = 20300; v <= 20520; v += 10) if (priceTicks.indexOf(v) < 0) minorTicks.push(v);

const layout = {
  width:1624, height:1016, margin:{l:0, r:54, t:0, b:25, pad:0},
  paper_bgcolor:'#ffffff', plot_bgcolor:'#ffffff', showlegend:false, boxgap:0.2,
  font:{family:FONT, size:13, color:'#000'},
  xaxis:{range:[X0, X1], rangeslider:{visible:false}, tickmode:'array', tickvals:hourIdx.map(k => k + 0.4), showticklabels:false,
    ticks:'outside', ticklen:8, tickcolor:'#000', showgrid:true, gridcolor:'#d6d6d6', gridwidth:1, zeroline:false,
    showline:true, linecolor:'#000', linewidth:2, fixedrange:true},
  yaxis:{range:[Y0, Y1], side:'right', tickmode:'array', tickvals:priceTicks, showticklabels:false,
    ticks:'outside', ticklen:4, tickcolor:'#000', showgrid:true, gridcolor:'#d6d6d6', zeroline:false,
    showline:true, linecolor:'#a0a0a0', linewidth:2,
    minor:{tickmode:'array', tickvals:minorTicks, ticks:'outside', ticklen:4, tickcolor:'#000', showgrid:false}, fixedrange:true},
  annotations:ann, shapes:shapes
};
Plotly.newPlot('chart', traces, layout, {staticPlot:true, displayModeBar:false});
</script></body></html>
